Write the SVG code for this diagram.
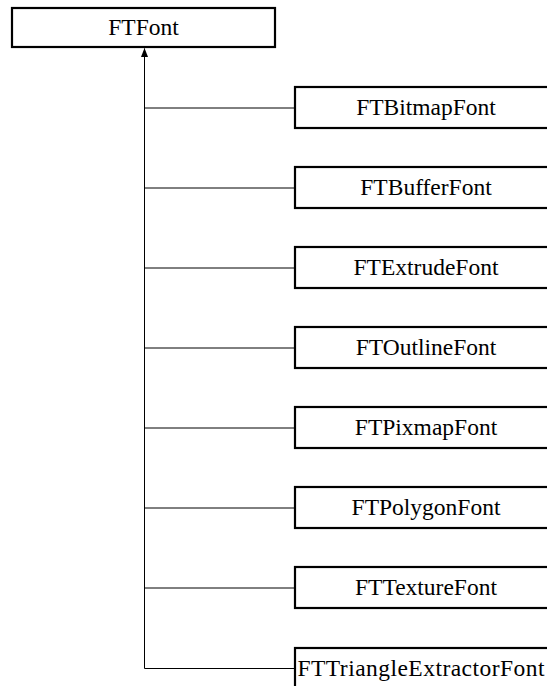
<svg xmlns="http://www.w3.org/2000/svg" width="547" height="686" viewBox="0 0 547 686">
<defs>
<style>
.box{fill:#fff;stroke:#000;stroke-width:2.2}
.lbl{font-family:"Liberation Serif","Times New Roman",serif;font-size:23.5px;fill:#000;text-anchor:middle}
.edge{fill:none;stroke:#000;stroke-width:1}
</style>
</defs>
<rect width="547" height="686" fill="#fff"/>
<g id="connectors">
<path class="edge" d="M144.5,48.5 V668.5 H294"/>
<path d="M144.5,48 L141,57 L148,57 Z" fill="#000"/>
<path class="edge" d="M144.5,108 H294 M144.5,188 H294 M144.5,268 H294 M144.5,348 H294 M144.5,428 H294 M144.5,508 H294 M144.5,588 H294"/>
</g>
<g id="FTFont"><rect class="box" x="12" y="8" width="263" height="39"/><text class="lbl" x="143.5" y="35">FTFont</text></g>
<g id="FTBitmapFont"><rect class="box" x="295" y="87" width="263" height="41"/><text class="lbl" x="426" y="115">FTBitmapFont</text></g>
<g id="FTBufferFont"><rect class="box" x="295" y="167" width="263" height="41"/><text class="lbl" x="426" y="195">FTBufferFont</text></g>
<g id="FTExtrudeFont"><rect class="box" x="295" y="247" width="263" height="41"/><text class="lbl" x="426" y="275">FTExtrudeFont</text></g>
<g id="FTOutlineFont"><rect class="box" x="295" y="327" width="263" height="41"/><text class="lbl" x="426" y="355">FTOutlineFont</text></g>
<g id="FTPixmapFont"><rect class="box" x="295" y="407" width="263" height="41"/><text class="lbl" x="426" y="435">FTPixmapFont</text></g>
<g id="FTPolygonFont"><rect class="box" x="295" y="487" width="263" height="41"/><text class="lbl" x="426" y="515">FTPolygonFont</text></g>
<g id="FTTextureFont"><rect class="box" x="295" y="567" width="263" height="41"/><text class="lbl" x="426" y="595">FTTextureFont</text></g>
<g id="FTTriangleExtractorFont"><rect class="box" x="295" y="648" width="263" height="41"/><text class="lbl" x="421" y="676" textLength="247" lengthAdjust="spacing">FTTriangleExtractorFont</text></g>
</svg>
